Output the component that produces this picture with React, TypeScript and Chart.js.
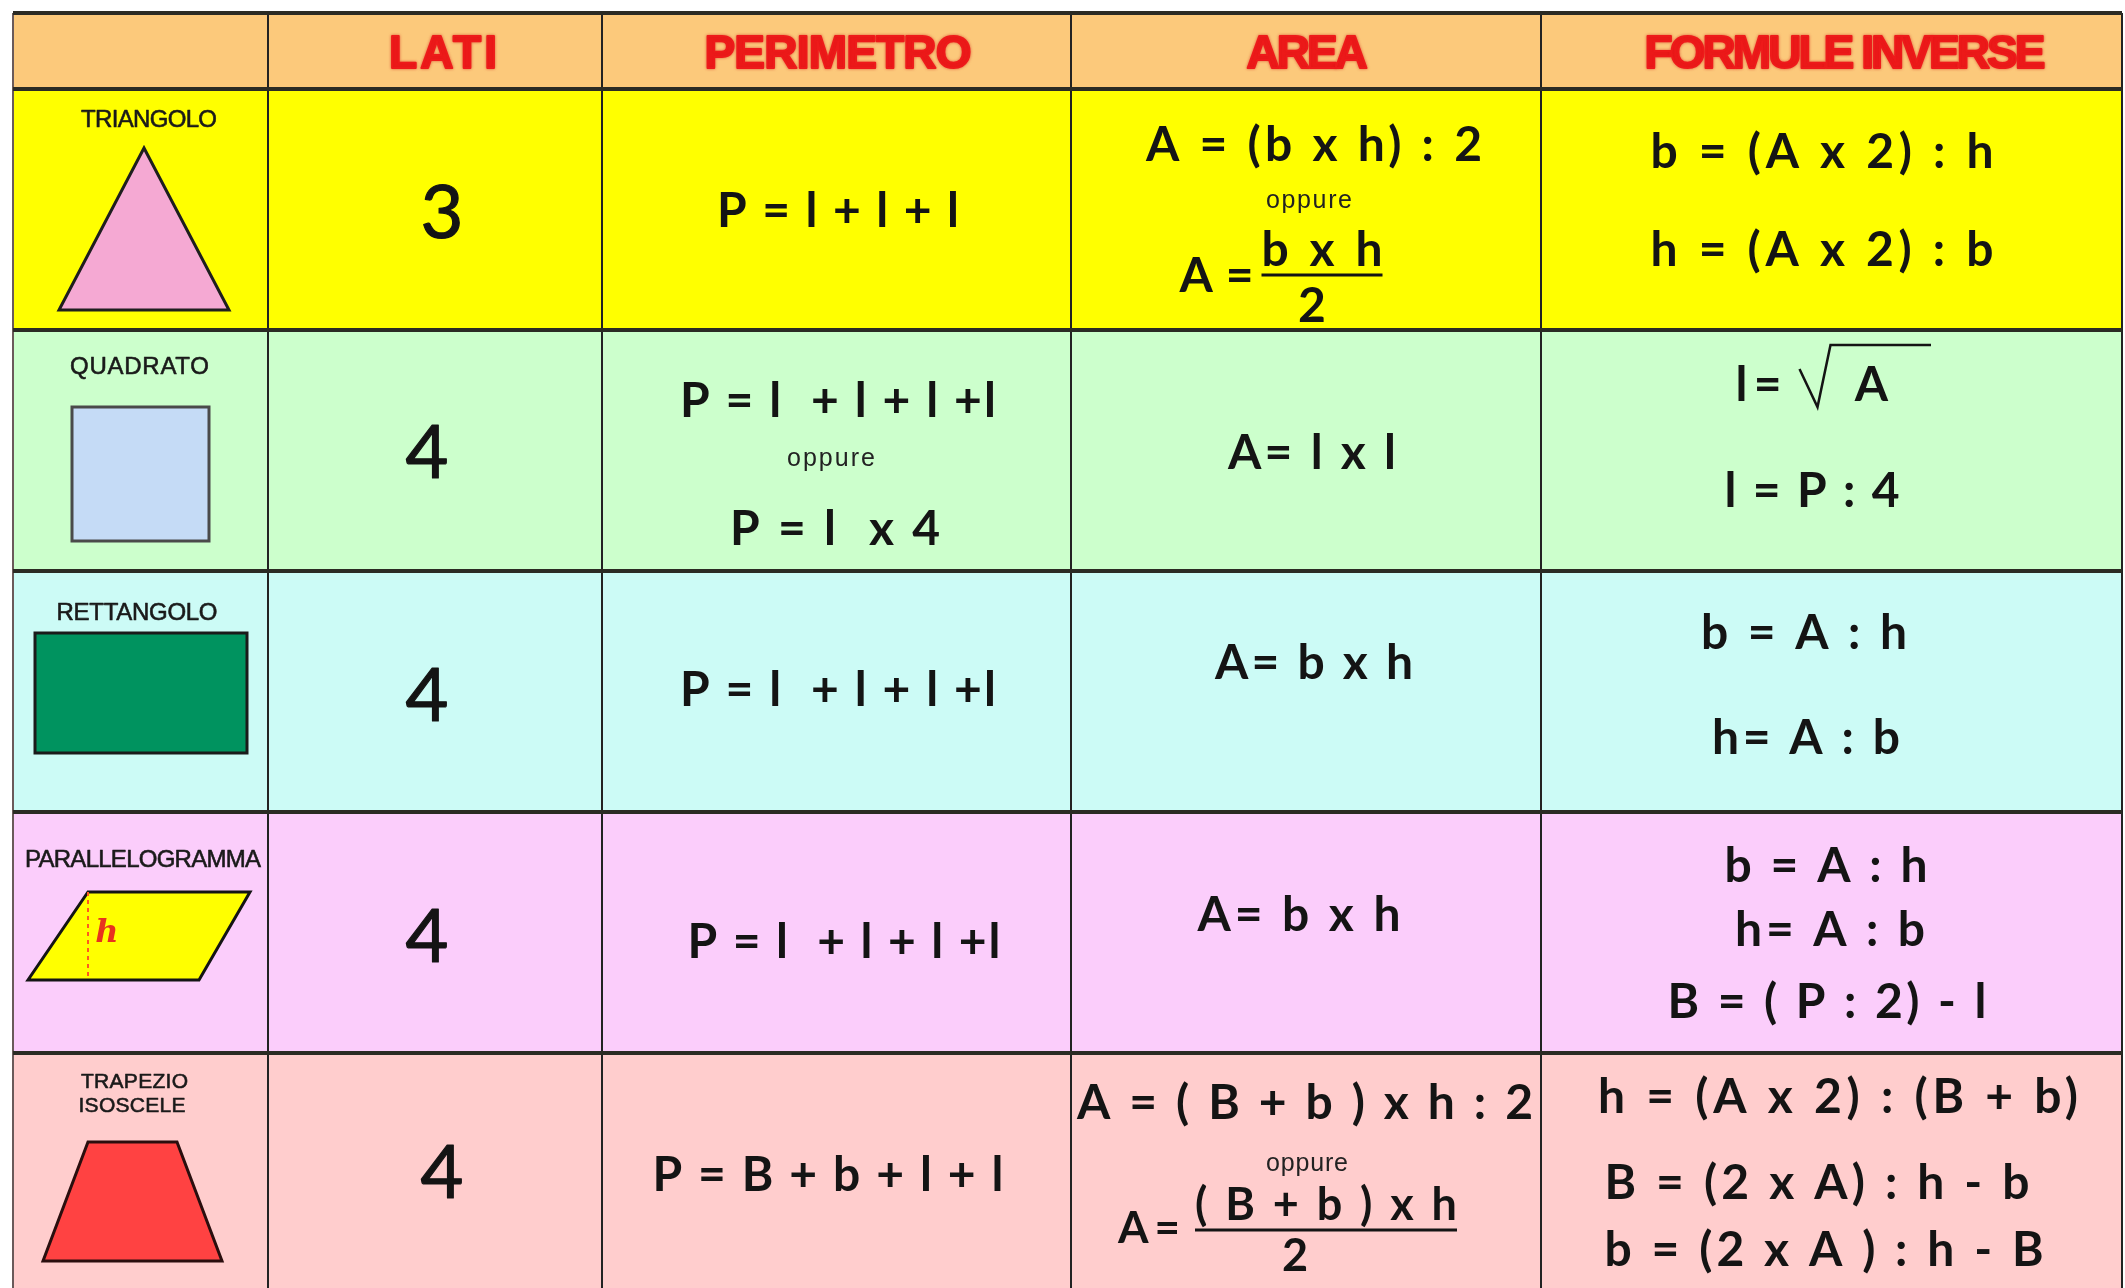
import React, { useEffect, useRef } from 'react';
import { Chart, registerables } from 'chart.js';

Chart.register(...registerables);

// ---------------- data ----------------
const HEADERS = ['', 'LATI', 'PERIMETRO', 'AREA', 'FORMULE INVERSE'];
const SHAPES = ['TRIANGOLO', 'QUADRATO', 'RETTANGOLO', 'PARALLELOGRAMMA', 'TRAPEZIO ISOSCELE'];
const LATI = [3, 4, 4, 4, 4];
const PERIMETRO = [
  ['P = l + l + l'],
  ['P = l  + l + l +l', 'oppure', 'P = l  x 4'],
  ['P = l  + l + l +l'],
  ['P = l  + l + l +l'],
  ['P = B + b + l + l'],
];
const AREA = [
  ['A = (b x h) : 2', 'oppure', 'A = {b x h}/{2}'],
  ['A= l x l'],
  ['A= b x h'],
  ['A= b x h'],
  ['A = ( B + b ) x h : 2', 'oppure', 'A = {( B + b ) x h}/{2}'],
];
const FORMULE_INVERSE = [
  ['b = (A x 2) : h', 'h = (A x 2) : b'],
  ['l = √A', 'l = P : 4'],
  ['b = A : h', 'h= A : b'],
  ['b = A : h', 'h= A : b', 'B = ( P : 2) - l'],
  ['h = (A x 2) : (B + b)', 'B = (2 x A) : h - b', 'b = (2 x A ) : h - B'],
];

// ---------------- layout & styles ----------------
const CANVAS_W = 2125;
const CANVAS_H = 1296;
const TABLE_TOP = 13;
const PAD = { left: 13, right: 3, top: 89, bottom: 2 };
const COL_EDGES = [0, 255, 589, 1058, 1528, 2109];
const HEADER_BG = '#fcc97b';
const ROW_COLORS = ['#ffff00', '#ccffcc', '#ccfbf6', '#fbcdfb', '#ffcdcd'];
const HEADER_COLOR = '#ee1a1a';
const INK = '#141414';
const F_FORM = '"Lato", "Open Sans", sans-serif';
const W_FORM = 'bold';
const F_SANS = '"Liberation Sans", Arial, sans-serif';

const HEADER_POS = [null, [8, 108], [1.5, 267], [0, 119], [13.5, 401]];
const LABEL_POS = [
  [[8.5, -91, 136]],
  [[-1, -85.5, 139]],
  [[-3.5, -80, 161]],
  [[2.5, -74.5, 236]],
  [[-6, -93, 107], [-8.5, -69, 107]],
];
const LATI_POS = [[7, 1.5], [-8, 0.5], [-8, 2.5], [-8, 2.5], [7, -2.5]];
const PERIM_POS = [
  [[1.5, 1.5, 242]],
  [[1.5, -49.5, 316], [-5.5, 11.5, 88], [-1.5, 78.5, 210]],
  [[1.5, -1.5, 316]],
  [[7.5, 9.5, 313]],
  [[-8.5, 1.5, 351]],
];
const AREA_POS: any[] = [
  [[8, -64.5, 336], [3, -5.5, 86], { dx: 16, dy: 65.5, w: 121, size: 48, numDy: -25, denDy: 31, denDx: -10, preGap: 8, preDy: 1, preW: 74, preSize: 48 }],
  [[6, 2.5, 168]],
  [[8, -28.5, 198]],
  [[-7, -17.5, 203]],
  [[-1, -70.5, 456], [1, -6.5, 82], { dx: 20, dy: 56.5, w: 262, size: 45, numDy: -25, denDy: 26, denDx: -31, preGap: 15, preDy: -2, preW: 62, preSize: 44 }],
];
const INV_POS: any[] = [
  [[-9.5, -57.5, 343], [-9.5, 40.5, 343]],
  [{ sqrt: true, dy: -65.5 }, [-19.5, 40.5, 175]],
  [[-27.5, -58.5, 206], [-25.5, 46.5, 188]],
  [[-5.5, -66.5, 203], [-1.5, -2.5, 190], [-4.5, 69.5, 319]],
  [[6.5, -76.5, 480], [-14.5, 9.5, 425], [-7.5, 76.5, 439]],
];

// shape icons (relative to the first-column cell centre)
const SHAPE_ICONS = [
  { pts: [[3.5, -61.5], [88.5, 100.5], [-81.5, 100.5]], fill: '#f5a9d3', stroke: '#1e1e1e' },
  { pts: [[-68.5, -43.5], [68.5, -43.5], [68.5, 90.5], [-68.5, 90.5]], fill: '#c5dbf6', stroke: '#4a4a4a' },
  { pts: [[-105.5, -58.5], [106.5, -58.5], [106.5, 61.5], [-105.5, 61.5]], fill: '#00935f', stroke: '#1a1a1a' },
  { pts: [[-52.5, -40.5], [109.5, -40.5], [58.5, 47.5], [-112.5, 47.5]], fill: '#ffff00', stroke: '#141414' },
  { pts: [[-52.5, -31.5], [36.5, -31.5], [81.5, 87.5], [-97.5, 87.5]], fill: '#ff4242', stroke: '#2a0e0e' },
];

function txt(ctx: CanvasRenderingContext2D, s: string, cx: number, cy: number, o: any) {
  ctx.save();
  ctx.font = `${o.italic ? 'italic ' : ''}${o.weight || 'normal'} ${o.size}px ${o.family}`;
  (ctx as any).letterSpacing = '0px';
  const n = Array.from(s).length;
  const w0 = ctx.measureText(s).width;
  let ls = 0;
  if (o.w && n > 1) ls = Math.max(-3, Math.min(26, (o.w - w0) / (n - 1)));
  (ctx as any).letterSpacing = ls + 'px';
  const total = w0 + ls * (n - 1);
  ctx.textAlign = 'left';
  ctx.textBaseline = 'alphabetic';
  ctx.fillStyle = o.color || INK;
  if (o.shadow) {
    ctx.shadowColor = o.shadow;
    ctx.shadowBlur = 3;
  }
  const base = o.base ?? 0.33;
  const compress = o.w && total > o.w + 2;
  const x0 = compress ? cx - o.w / 2 : cx - total / 2;
  const yb = cy + base * o.size;
  if (compress) ctx.fillText(s, x0, yb, o.w);
  else ctx.fillText(s, x0, yb);
  if (o.thick) {
    ctx.lineWidth = o.thick;
    ctx.strokeStyle = o.color || INK;
    ctx.lineJoin = 'round';
    if (compress) ctx.strokeText(s, x0, yb, o.w);
    else ctx.strokeText(s, x0, yb);
  }
  ctx.restore();
}

function formulaLine(ctx: CanvasRenderingContext2D, s: string, cx: number, cy: number, p: any) {
  if (s === 'oppure') {
    txt(ctx, s, cx + p[0], cy + p[1], { size: 25, family: F_SANS, w: p[2], base: 0.16, color: '#222' });
    return;
  }
  const m = s.match(/^(.*?)\{(.*)\}\/\{(.*)\}$/);
  if (m) {
    const [, pre, num, den] = m;
    const bx = cx + p.dx;
    const by = cy + p.dy;
    const x0 = bx - p.w / 2;
    ctx.save();
    ctx.beginPath();
    ctx.moveTo(x0, by);
    ctx.lineTo(x0 + p.w, by);
    ctx.lineWidth = 3;
    ctx.strokeStyle = INK;
    ctx.stroke();
    ctx.restore();
    txt(ctx, num, bx, by + p.numDy, { size: p.size, family: F_FORM, weight: W_FORM, w: p.w });
    txt(ctx, den, bx + p.denDx, by + p.denDy, { size: p.size, family: F_FORM, weight: W_FORM });
    txt(ctx, pre.trim(), x0 - p.preGap - p.preW / 2, by + p.preDy, { size: p.preSize, family: F_FORM, weight: W_FORM, w: p.preW });
    return;
  }
  if (p.sqrt) {
    const [pre, rad] = s.split('√');
    const y0 = cy + p.dy;
    txt(ctx, pre.trim(), cx - 73, y0, { size: 48, family: F_FORM, weight: W_FORM, w: 46 });
    ctx.save();
    ctx.beginPath();
    ctx.moveTo(cx - 32, y0 - 16);
    ctx.lineTo(cx - 14, y0 + 22);
    ctx.lineTo(cx - 1, y0 - 40);
    ctx.lineTo(cx + 99.5, y0 - 40);
    ctx.lineWidth = 2.5;
    ctx.strokeStyle = INK;
    ctx.stroke();
    ctx.restore();
    txt(ctx, rad.trim(), cx + 40, y0, { size: 48, family: F_FORM, weight: W_FORM });
    return;
  }
  txt(ctx, s, cx + p[0], cy + p[1], { size: 48, family: F_FORM, weight: W_FORM, w: p[2] });
}

const tablePlugin = {
  id: 'tableDecor',
  beforeDatasetsDraw(chart: any) {
    const { ctx, chartArea, scales } = chart;
    const x = scales.x;
    const l = x.getPixelForValue(COL_EDGES[0]);
    const r = x.getPixelForValue(COL_EDGES[COL_EDGES.length - 1]);
    ctx.save();
    ctx.fillStyle = HEADER_BG;
    ctx.fillRect(l, TABLE_TOP, r - l, chartArea.top - TABLE_TOP);
    ctx.restore();
  },
  afterDatasetsDraw(chart: any) {
    const { ctx, chartArea, scales } = chart;
    const x = scales.x;
    const y = scales.y;
    const xs = COL_EDGES.map((e) => x.getPixelForValue(e));
    const rowC = SHAPES.map((_, i) => y.getPixelForValue(i));
    const bounds = [TABLE_TOP, chartArea.top];
    for (let i = 0; i < rowC.length - 1; i++) bounds.push((rowC[i] + rowC[i + 1]) / 2);
    bounds.push(chartArea.bottom);
    const colC = xs.slice(0, -1).map((v, i) => (v + xs[i + 1]) / 2);

    // grid lines
    ctx.save();
    ctx.lineWidth = 2;
    xs.forEach((v, i) => {
      ctx.beginPath();
      ctx.moveTo(v, TABLE_TOP);
      ctx.lineTo(v, chartArea.bottom);
      ctx.strokeStyle = i === 0 ? '#6a5a5a' : '#222';
      ctx.stroke();
    });
    bounds.forEach((b) => {
      ctx.beginPath();
      ctx.moveTo(xs[0], b);
      ctx.lineTo(xs[xs.length - 1], b);
      ctx.strokeStyle = '#2b2b24';
      ctx.lineWidth = 4;
      ctx.stroke();
    });
    ctx.restore();

    // header labels
    const hc = (TABLE_TOP + chartArea.top) / 2;
    HEADERS.forEach((h, c) => {
      if (!h) return;
      const p = HEADER_POS[c] as number[];
      txt(ctx, h, colC[c] + p[0], hc, { size: 46, family: F_SANS, weight: 'bold', color: HEADER_COLOR, w: p[1], base: 0.36, shadow: 'rgba(210,20,20,0.5)', thick: 2 });
    });

    rowC.forEach((cy, r) => {
      // shape names
      const words = LABEL_POS[r].length > 1 ? SHAPES[r].split(' ') : [SHAPES[r]];
      words.forEach((wd, k) => {
        const p = LABEL_POS[r][k];
        txt(ctx, wd, colC[0] + p[0], cy + p[1], { size: LABEL_POS[r].length > 1 ? 21 : 24, family: F_SANS, w: p[2], base: 0.36, color: '#1a1a1a', thick: 0.6 });
      });
      // shape icon
      const ic = SHAPE_ICONS[r];
      ctx.save();
      ctx.beginPath();
      ic.pts.forEach(([px, py], i) => (i ? ctx.lineTo(colC[0] + px, cy + py) : ctx.moveTo(colC[0] + px, cy + py)));
      ctx.closePath();
      ctx.fillStyle = ic.fill;
      ctx.fill();
      ctx.lineWidth = 3;
      ctx.lineJoin = 'miter';
      ctx.strokeStyle = ic.stroke;
      ctx.stroke();
      ctx.restore();
      if (r === 3) {
        ctx.save();
        ctx.setLineDash([4, 4]);
        ctx.strokeStyle = '#ff5a1e';
        ctx.lineWidth = 2;
        ctx.beginPath();
        ctx.moveTo(colC[0] - 52.5, cy - 40.5);
        ctx.lineTo(colC[0] - 52.5, cy + 47.5);
        ctx.stroke();
        ctx.restore();
        txt(ctx, 'h', colC[0] - 33.5, cy - 2, { size: 32, family: '"DejaVu Serif", serif', italic: true, weight: 'bold', color: '#e8321e', base: 0.36 });
      }
      // lati
      const lp = LATI_POS[r];
      txt(ctx, String(LATI[r]), colC[1] + lp[0], cy + lp[1], { size: 74, family: F_FORM, base: 0.36, thick: 1.2 });
      // perimetro
      PERIMETRO[r].forEach((s, k) => formulaLine(ctx, s, colC[2], cy, PERIM_POS[r][k]));
      // area
      AREA[r].forEach((s, k) => formulaLine(ctx, s, colC[3], cy, AREA_POS[r][k]));
      // formule inverse
      FORMULE_INVERSE[r].forEach((s, k) => formulaLine(ctx, s, colC[4], cy, INV_POS[r][k]));
    });
  },
};

export default function App() {
  const ref = useRef<HTMLCanvasElement | null>(null);
  useEffect(() => {
    if (!ref.current) return;
    const widths = COL_EDGES.slice(1).map((e, i) => e - COL_EDGES[i]);
    const chart = new Chart(ref.current, {
      type: 'bar',
      data: {
        labels: SHAPES,
        datasets: HEADERS.map((h, c) => ({
          label: h || 'figura',
          data: SHAPES.map(() => widths[c]),
          backgroundColor: ROW_COLORS,
          borderWidth: 0,
          categoryPercentage: 1,
          barPercentage: 1,
        })),
      },
      options: {
        indexAxis: 'y',
        responsive: false,
        animation: false,
        devicePixelRatio: 1,
        events: [],
        layout: { padding: PAD },
        plugins: { legend: { display: false }, tooltip: { enabled: false } },
        scales: {
          x: { type: 'linear', stacked: true, min: 0, max: COL_EDGES[COL_EDGES.length - 1], display: false },
          y: { type: 'category', stacked: true, display: false, offset: true },
        },
      },
      plugins: [tablePlugin],
    });
    return () => chart.destroy();
  }, []);
  return (
    <div style={{ position: 'fixed', left: 0, top: 0, width: CANVAS_W, height: CANVAS_H, background: '#fff' }}>
      <canvas ref={ref} width={CANVAS_W} height={CANVAS_H} style={{ width: CANVAS_W, height: CANVAS_H, display: 'block' }} />
    </div>
  );
}
